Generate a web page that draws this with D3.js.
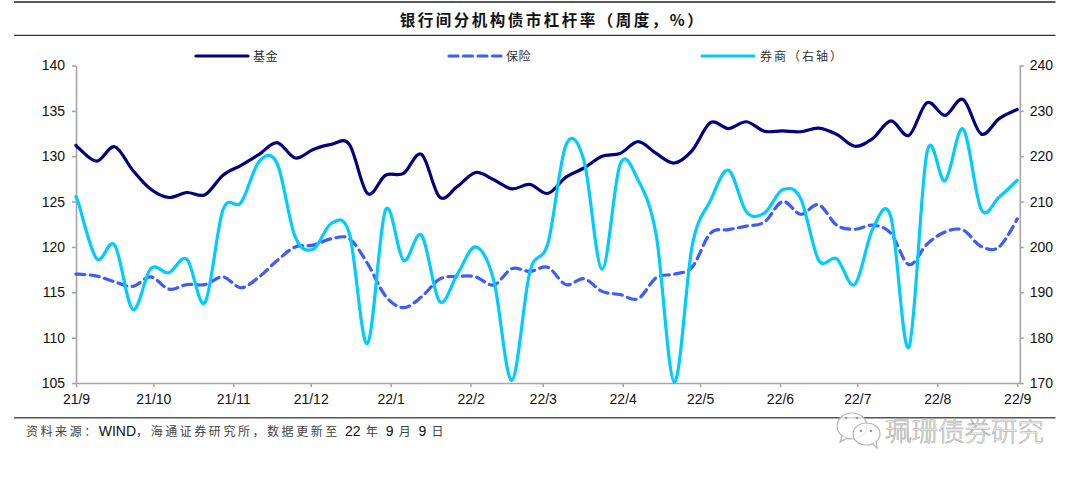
<!DOCTYPE html>
<html><head><meta charset="utf-8">
<script src="https://cdn.jsdelivr.net/npm/d3@7/dist/d3.min.js"></script>
<style>html,body{margin:0;padding:0;background:#fff}svg{display:block}</style></head>
<body><div id="chart"></div>
<script>
const titleText = "银行间分机构债市杠杆率（周度，%）";
const sourceParts = ["资料来源：","WIND","，海通证券研究所，数据更新至 ","22"," 年 ","9"," 月 ","9"," 日"];
const watermark = "珮珊债券研究";
const seriesNames = ["基金","保险","券商（右轴）"];
const leftTicks = [105,110,115,120,125,130,135,140];
const rightTicks = [170,180,190,200,210,220,230,240];
const monthTicks = ["2021-09-01","2021-10-01","2021-11-01","2021-12-01","2022-01-01","2022-02-01","2022-03-01","2022-04-01","2022-05-01","2022-06-01","2022-07-01","2022-08-01","2022-09-01"];
const dates = ["2021-09-01","2021-09-02","2021-09-09","2021-09-16","2021-09-23","2021-09-30","2021-10-07","2021-10-14","2021-10-21","2021-10-28","2021-11-04","2021-11-11","2021-11-18","2021-11-25","2021-12-02","2021-12-09","2021-12-16","2021-12-23","2021-12-30","2022-01-06","2022-01-13","2022-01-20","2022-01-27","2022-02-03","2022-02-10","2022-02-17","2022-02-24","2022-03-03","2022-03-10","2022-03-17","2022-03-24","2022-03-31","2022-04-07","2022-04-14","2022-04-21","2022-04-28","2022-05-05","2022-05-12","2022-05-19","2022-05-26","2022-06-02","2022-06-09","2022-06-16","2022-06-23","2022-06-30","2022-07-07","2022-07-14","2022-07-21","2022-07-28","2022-08-04","2022-08-11","2022-08-18","2022-08-25","2022-09-01"];
const fund = [131.2,130.9,129.45,131.05,128.45,126.35,125.45,126.0,125.75,127.9,129.0,130.2,131.5,129.8,130.75,131.3,131.3,125.9,127.9,128.1,130.2,125.5,126.7,128.2,127.4,126.4,126.9,125.9,127.7,128.7,130.0,130.3,131.6,130.3,129.25,130.65,133.7,133.05,133.8,132.75,132.8,132.7,133.1,132.4,131.1,131.95,133.9,132.3,135.9,134.5,136.25,132.45,134.15,135.15];
const insurance = [117.0,117.0,116.8,116.15,115.65,116.7,115.35,115.85,115.85,116.7,115.5,116.7,118.5,120.0,120.2,120.9,120.9,118.2,114.6,113.3,114.5,116.45,116.75,116.7,115.8,117.6,117.3,117.75,115.85,116.5,115.1,114.75,114.3,116.6,117.0,117.8,121.5,121.9,122.3,122.75,125.0,123.6,124.65,122.4,121.95,122.4,121.5,118.05,120.3,121.65,121.85,120.05,120.0,123.1];
const broker = [211.0,209.55,197.4,200.4,186.25,195.2,194.3,197.3,187.75,208.2,209.8,218.8,218.4,202.2,199.5,205.2,203.0,178.7,208.1,197.05,202.6,188.0,194.1,200.0,192.65,170.6,194.5,200.8,222.5,219.0,195.1,218.2,214.7,202.6,170.2,200.4,210.2,216.9,207.7,207.5,212.6,210.7,197.1,197.4,191.7,204.0,206.6,177.9,220.8,214.6,226.0,208.3,211.0,214.7];

const W=1080,H=478;
const cjk='"Noto Sans CJK SC","Noto Sans",sans-serif', latin='"Liberation Sans",Arial,sans-serif';
const svg=d3.select("#chart").append("svg").attr("width",W).attr("height",H).style("background","#fff");
const parse=d3.timeParse("%Y-%m-%d");
const mL=76,mT=65.5,mB=383;
const x=d3.scaleTime().domain([parse("2021-09-01"),parse("2022-09-02")]).range([mL,mL+943.8]);
const yL=d3.scaleLinear().domain([105,140]).range([mB,mT]);
const yR=d3.scaleLinear().domain([170,240]).range([mB,mT]);
const axisColor="#a6a6a6";
[[2,1.3,"#222"],[35.3,1.3,"#333"],[417.7,1.6,"#555"]].forEach(r=>svg.append("line").attr("x1",14).attr("x2",1055.5).attr("y1",r[0]).attr("y2",r[0]).attr("stroke",r[2]).attr("stroke-width",r[1]));
svg.append("text").attr("x",552.5).attr("y",25.5).attr("text-anchor","middle").attr("font-family",cjk).attr("font-size",15.5).attr("font-weight",700).attr("letter-spacing",2.5).attr("fill","#111").text(titleText);
function style(g){g.selectAll("path,line").attr("stroke",axisColor).attr("stroke-width",1.6);g.selectAll("text").attr("font-family",latin).attr("font-size",14).attr("fill","#111");}
const gl=svg.append("g").attr("transform",`translate(${mL},0)`).call(d3.axisLeft(yL).tickValues(leftTicks).tickSize(4).tickPadding(6).tickSizeOuter(0));style(gl);
gl.selectAll("text").attr("dx",-1);
const gr=svg.append("g").attr("transform",`translate(${mL+943.8},0)`).call(d3.axisRight(yR).tickValues(rightTicks).tickSize(4).tickPadding(6).tickSizeOuter(0));style(gr);
const gx=svg.append("g").attr("transform",`translate(0,${mB})`).call(d3.axisBottom(x).tickValues(monthTicks.map(parse)).tickFormat(d3.timeFormat("%y/%-m")).tickSize(4).tickPadding(7).tickSizeOuter(0));style(gx);
const rows=dates.map(parse);
const curve=d3.curveCatmullRom.alpha(0);
const lnL=d3.line().x((d,i)=>x(rows[i])).y(d=>yL(d)).curve(curve);
const lnR=d3.line().x((d,i)=>x(rows[i])).y(d=>yR(d)).curve(curve);
const cFund="#000080",cIns="#3d5cff",cBrk="#00ccff",dash="9 5.5";
const common=s=>s.attr("fill","none").attr("stroke-width",3.2).attr("stroke-linecap","round").attr("stroke-linejoin","round");
svg.append("path").attr("d",lnL(fund)).attr("stroke",cFund).call(common);
svg.append("path").attr("d",lnL(insurance)).attr("stroke",cIns).attr("stroke-dasharray",dash).call(common);
svg.append("path").attr("d",lnR(broker)).attr("stroke",cBrk).call(common);
[[196,248,253,cFund,null],[449,501,506,cIns,dash],[702,754,760,cBrk,null]].forEach((l,i)=>{
 const ln=svg.append("line").attr("x1",l[0]).attr("x2",l[1]).attr("y1",56).attr("y2",56).attr("stroke",l[3]).call(common);
 if(l[4])ln.attr("stroke-dasharray",l[4]);
 svg.append("text").attr("x",l[2]).attr("y",60.5).attr("font-family",cjk).attr("font-size",12).attr("letter-spacing",i==2?2:0.5).attr("fill","#333").text(seriesNames[i]);
});
const src=svg.append("text").attr("x",26).attr("y",436).attr("font-size",12.5).attr("fill","#222");
sourceParts.forEach((p,i)=>{const l=/^[A-Z0-9]+$/.test(p);src.append("tspan").attr("font-family",l?latin:cjk).attr("font-size",l?14:12).attr("letter-spacing",l?0:2.55).attr("fill",l?"#111":"#444").text(p);});
const wm=svg.append("g").attr("fill","#fff").attr("fill-opacity",0.75).attr("stroke","#b5b5b5").attr("stroke-width",1.2);
wm.append("ellipse").attr("cx",852).attr("cy",426).attr("rx",15).attr("ry",13);
wm.append("path").attr("d",d3.line()([[842,436],[840,442],[848,438]]));
wm.append("ellipse").attr("cx",866.5).attr("cy",434).attr("rx",13.5).attr("ry",11);
wm.append("path").attr("d",d3.line()([[872,443],[877,448],[876,441]]));
[[846,418],[857,418],[861,431],[871,431]].forEach(p=>wm.append("circle").attr("cx",p[0]).attr("cy",p[1]).attr("r",1.3).attr("fill","#999").attr("fill-opacity",1).attr("stroke","none"));
svg.append("text").attr("x",885).attr("y",441).attr("font-family",cjk).attr("font-size",26.5).attr("font-weight",300).attr("fill","#fff").attr("stroke","#a5a5a5").attr("stroke-width",0.6).text(watermark);
</script></body></html>
